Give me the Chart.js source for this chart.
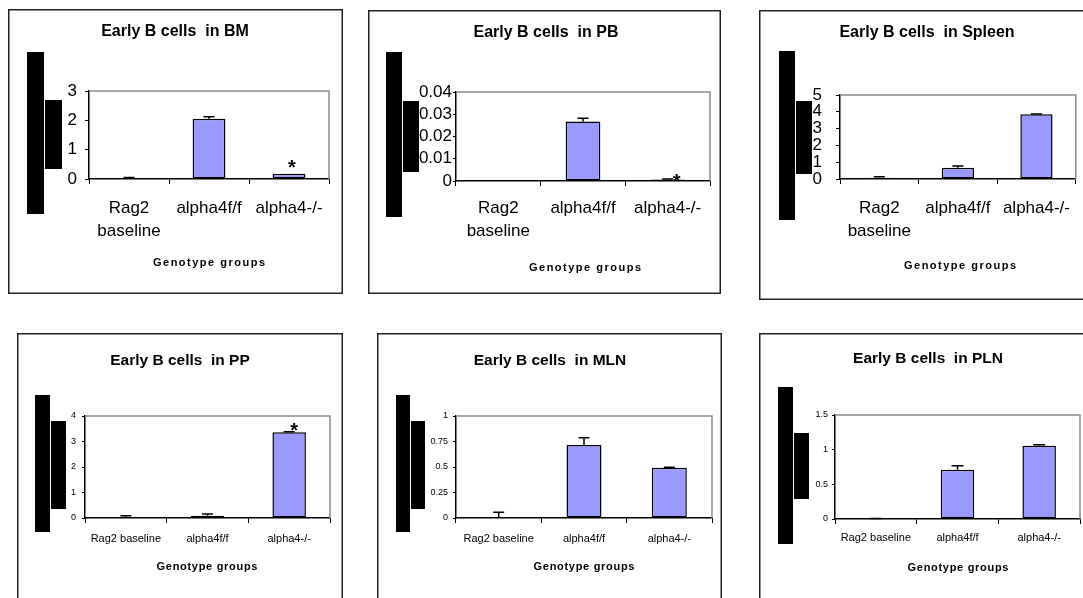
<!DOCTYPE html>
<html>
<head>
<meta charset="utf-8">
<script src="https://cdn.jsdelivr.net/npm/chart.js@4.4.1/dist/chart.umd.min.js"></script>
<style>
  html, body { margin: 0; padding: 0; background: #fff; }
  body { position: relative; width: 1083px; height: 598px; overflow: hidden; }
  canvas { position: absolute; display: block; }
</style>
</head>
<body>
<script>
// ---------------- DATA ----------------
const categoriesTop = [["Rag2", "baseline"], "alpha4f/f", "alpha4-/-"];
const categoriesBottom = ["Rag2 baseline", "alpha4f/f", "alpha4-/-"];
const axisTitleText = "Genotype groups";

const titles = [
  "Early B cells  in BM",
  "Early B cells  in PB",
  "Early B cells  in Spleen",
  "Early B cells  in PP",
  "Early B cells  in MLN",
  "Early B cells  in PLN"
];

const bmMeans = [0.03, 2.05, 0.18];
const bmErrors = [0.02, 0.07, 0];
const bmStars = [false, false, true];
const bmAxis = [0, 3, 1];            // min, max, step

const pbMeans = [0.0001, 0.0267, 0.0007];
const pbErrors = [0, 0.0015, 0.0002];
const pbStars = [false, false, true];
const pbAxis = [0, 0.04, 0.01];

const spleenMeans = [0.08, 0.67, 3.85];
const spleenErrors = [0.05, 0.1, 0.02];
const spleenStars = [false, false, false];
const spleenAxis = [0, 5, 1];

const ppMeans = [0.02, 0.09, 3.36];
const ppErrors = [0.07, 0.07, 0.02];
const ppStars = [false, false, true];
const ppAxis = [0, 4, 1];

const mlnMeans = [0, 0.716, 0.493];
const mlnErrors = [0.056, 0.07, 0.004];
const mlnStars = [false, false, false];
const mlnAxis = [0, 1, 0.25];

const plnMeans = [0.005, 0.711, 1.057];
const plnErrors = [0.004, 0.058, 0.015];
const plnStars = [false, false, false];
const plnAxis = [0, 1.5, 0.5];

// ---------------- LAYOUT / STYLE ----------------
const FONT = "'Liberation Sans', Arial, Helvetica, sans-serif";
const BAR_FILL = "#9999FF";

const layouts = [
  { box:[8,9,335,285], plot:[89,91,329,179], titleX:175, titleY:32, titleSize:16,
    axisX:209, axisY:263, axisSpacing:1.5, tickSize:17, catSize:17, catLH:23, catPad:12.5,
    yTick:4, yPad:8, starDx:3, starDy:11, capW:11,
    rects:[[27,52,17,162],[45,100,17,69]] },
  { box:[368,10,353,284], plot:[456,92,710,181], titleX:546, titleY:33, titleSize:16,
    axisX:585, axisY:268, axisSpacing:1.5, tickSize:17, catSize:17, catLH:23, catPad:10.5,
    yTick:3, yPad:1, starDx:9, starDy:2, capW:11,
    rects:[[386,52,16,165],[403,101,16,71]] },
  { box:[759,10,324,290], boxW:340, plot:[840,95,1080,179], titleX:927, titleY:33, titleSize:16,
    axisX:960, axisY:266, axisSpacing:1.5, tickSize:17, catSize:17, catLH:23, catPad:12.5,
    yTick:4, yPad:14, starDx:3, starDy:11, capW:11,
    rects:[[779,51,16,169],[796,101,16,73]] },
  { box:[17,333,326,265], boxH:300, plot:[85,416,330,518], titleX:180, titleY:361, titleSize:15.5,
    axisX:207, axisY:567, axisSpacing:0.7, tickSize:9, catSize:11, catLH:13.2, catPad:9.4,
    yTick:3, yPad:6, starDx:5, starDy:6, capW:11,
    rects:[[35,395,15,137],[51,421,15,88]] },
  { box:[377,333,345,265], boxH:300, plot:[456,416,712,518], titleX:550, titleY:361, titleSize:15.5,
    axisX:584, axisY:567, axisSpacing:0.7, tickSize:9, catSize:11, catLH:13.2, catPad:9.4,
    yTick:3, yPad:5, starDx:5, starDy:6, capW:11,
    rects:[[396,395,14,137],[411,421,14,88]] },
  { box:[759,333,324,265], boxW:340, boxH:300, plot:[835,415,1080,519], titleX:928, titleY:359, titleSize:15.5,
    axisX:958, axisY:568, axisSpacing:0.7, tickSize:9, catSize:11, catLH:13.2, catPad:7.4,
    yTick:3, yPad:4, starDx:5, starDy:6, capW:12,
    rects:[[778,387,15,157],[794,433,15,66]] }
];

const panels = [
  { cats: categoriesTop,    means: bmMeans,     errs: bmErrors,     stars: bmStars,     axis: bmAxis },
  { cats: categoriesTop,    means: pbMeans,     errs: pbErrors,     stars: pbStars,     axis: pbAxis },
  { cats: categoriesTop,    means: spleenMeans, errs: spleenErrors, stars: spleenStars, axis: spleenAxis },
  { cats: categoriesBottom, means: ppMeans,     errs: ppErrors,     stars: ppStars,     axis: ppAxis },
  { cats: categoriesBottom, means: mlnMeans,    errs: mlnErrors,    stars: mlnStars,    axis: mlnAxis },
  { cats: categoriesBottom, means: plnMeans,    errs: plnErrors,    stars: plnStars,    axis: plnAxis }
];

function makePlugin(i, L, P) {
  const [bx, by, bw, bh] = L.box;
  return {
    id: 'deco' + i,
    beforeDatasetsDraw(chart) {
      const ctx = chart.ctx, a = chart.chartArea;
      ctx.save();
      ctx.strokeStyle = '#8a8a8a';
      ctx.lineWidth = 1.5;
      ctx.beginPath();
      ctx.moveTo(a.left, a.top);
      ctx.lineTo(a.right, a.top);
      ctx.lineTo(a.right, a.bottom);
      ctx.stroke();
      ctx.restore();
    },
    afterDatasetsDraw(chart) {
      const ctx = chart.ctx;
      const ys = chart.scales.y;
      const meta = chart.getDatasetMeta(0);
      ctx.save();
      ctx.strokeStyle = '#000';
      ctx.lineWidth = 1.5;
      P.errs.forEach((e, k) => {
        if (!e) return;
        const x = meta.data[k].x;
        const y0 = ys.getPixelForValue(P.means[k]);
        const y1 = ys.getPixelForValue(P.means[k] + e);
        ctx.beginPath();
        ctx.moveTo(x, y0);
        ctx.lineTo(x, y1);
        ctx.moveTo(x - L.capW / 2, y1);
        ctx.lineTo(x + L.capW / 2, y1);
        ctx.stroke();
      });
      // significance stars
      ctx.fillStyle = '#000';
      ctx.font = 'bold 20px ' + FONT;
      ctx.textAlign = 'center';
      ctx.textBaseline = 'alphabetic';
      P.stars.forEach((s, k) => {
        if (!s) return;
        const x = meta.data[k].x + L.starDx;
        const yc = ys.getPixelForValue(P.means[k] + P.errs[k]) - L.starDy;
        ctx.fillText('*', x, yc + 0.57 * 20);
      });
      ctx.restore();
    },
    afterDraw(chart) {
      const ctx = chart.ctx;
      ctx.save();
      // panel frame
      ctx.strokeStyle = '#222';
      ctx.lineWidth = 1.5;
      ctx.strokeRect(0.75, 0.75, (L.boxW || bw) - 1.5, (L.boxH || bh) - 1.5);
      // title
      ctx.fillStyle = '#000';
      ctx.font = 'bold ' + L.titleSize + 'px ' + FONT;
      ctx.textAlign = 'center';
      ctx.textBaseline = 'middle';
      ctx.fillText(titles[i], L.titleX - bx, L.titleY - by);
      // x axis title
      ctx.font = 'bold 11px ' + FONT;
      ctx.letterSpacing = L.axisSpacing + 'px';
      ctx.fillText(axisTitleText, L.axisX - bx + L.axisSpacing / 2, L.axisY - by);
      ctx.letterSpacing = '0px';
      // black blocks
      ctx.fillStyle = '#000';
      L.rects.forEach(r => ctx.fillRect(r[0] - bx, r[1] - by, r[2], r[3]));
      ctx.restore();
    }
  };
}

panels.forEach((P, i) => {
  const L = layouts[i];
  const [bx, by, bw, bh] = L.box;
  const [pl, pt, pr, pb] = L.plot;
  const cv = document.createElement('canvas');
  cv.width = bw; cv.height = bh;
  cv.style.left = bx + 'px'; cv.style.top = by + 'px';
  cv.style.width = bw + 'px'; cv.style.height = bh + 'px';
  document.body.appendChild(cv);

  const yW = pl - bx;
  const xH = bh - (pb - by);

  new Chart(cv, {
    type: 'bar',
    data: {
      labels: P.cats,
      datasets: [{
        data: P.means,
        backgroundColor: BAR_FILL,
        borderColor: '#000',
        borderWidth: 1.5,
        borderSkipped: false,
        categoryPercentage: 1,
        barPercentage: 0.41
      }]
    },
    options: {
      responsive: false,
      animation: false,
      devicePixelRatio: 1,
      events: [],
      layout: { padding: { left: 0, top: pt - by, right: bx + bw - pr, bottom: 0 } },
      plugins: { legend: { display: false }, tooltip: { enabled: false }, title: { display: false } },
      scales: {
        x: {
          type: 'category',
          offset: true,
          grid: { offset: true, drawOnChartArea: false, drawTicks: true, tickLength: 5, color: '#000', lineWidth: 1 },
          border: { color: '#000', width: 1.5 },
          ticks: { color: '#000', font: { family: FONT, size: L.catSize, lineHeight: L.catLH / L.catSize },
                   padding: L.catPad, maxRotation: 0, minRotation: 0, autoSkip: false },
          afterFit(s) { s.height = xH; }
        },
        y: {
          min: P.axis[0], max: P.axis[1],
          grid: { drawOnChartArea: false, drawTicks: true, tickLength: L.yTick, color: '#000', lineWidth: 1 },
          border: { color: '#000', width: 1.5 },
          ticks: { stepSize: P.axis[2], autoSkip: false, color: '#000',
                   font: { family: FONT, size: L.tickSize }, padding: L.yPad,
                   callback: v => String(Number(v.toFixed(4))) },
          afterFit(s) { s.width = yW; }
        }
      }
    },
    plugins: [makePlugin(i, L, P)]
  });
});
</script>
</body>
</html>
